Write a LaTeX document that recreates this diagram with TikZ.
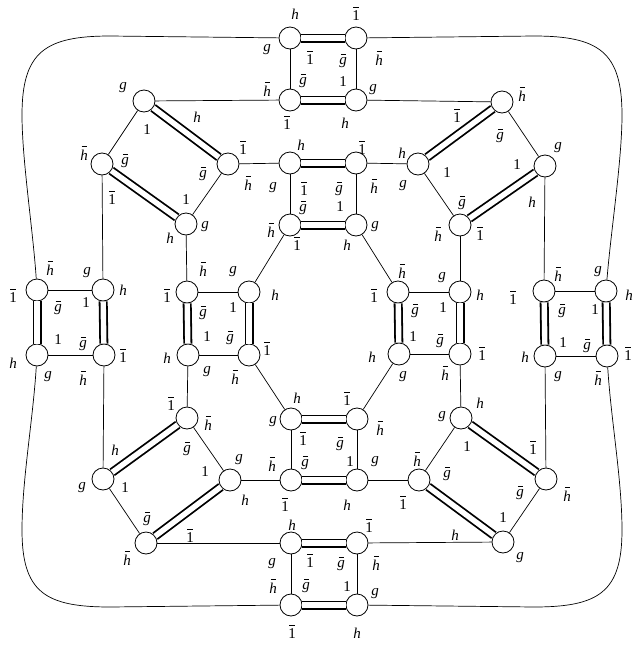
\documentclass[tikz,border=0pt]{standalone}
\usepackage{fontspec}
\setmainfont{Liberation Serif}
\usetikzlibrary{calc}
\newcommand\ob[2][0pt]{\setbox0\hbox{#2}\hbox{\rlap{\hbox to \wd0{\hss\kern#1\smash{\raisebox{\dimexpr\ht0+3.2pt\relax}{\rule{5.5pt}{0.9pt}}}\hss}}\box0}}
\newcommand\Lh{\textit{h}}
\newcommand\Lg{\textit{g}}
\newcommand\Lo{\textup{1}}
\newcommand\Lbh{\ob[1pt]{\textit{h}}}
\newcommand\Lbg{\ob[1pt]{\textit{g}}}
\newcommand\Lbo{\ob{\textup{1}}}
\begin{document}
\begin{tikzpicture}[x=1pt,y=-1pt,
  vert/.style={circle,draw,fill=white,minimum size=22pt,inner sep=0pt,line width=0.8pt},
  sgl/.style={line width=0.7pt},
  dbl/.style={double,double distance=5.4pt,line width=1.8pt},
  lab/.style={inner sep=0pt,font=\fontsize{15}{17}\selectfont}]
\useasboundingbox (0,0) rectangle (634,646);
% nodes
\foreach \n/\x/\y in {
 ta/290/38, tb/356/38, tc/290/100, td/356/100,
 ua/290/163, ub/356/163, uc/290/225, ud/356/225,
 va/291/419, vb/357/419, vc/291/480, vd/357/480,
 wa/291/543, wb/357/543, wc/291/605, wd/357/605,
 la/37/290, lb/103/290, lc/37/355, ld/104/355,
 ma/187/292, mb/249/292, mc/188/355, md/249/355,
 na/398/292, nb/460/292, nc/399/354, nd/460/354,
 ra/544/291, rb/606/291, rc/545/356, rd/607/356,
 pa/144/101, pb/102/164, pc/228/164, pd/186/224,
 qa/502/102, qb/418/164, qc/545/166, qd/460/225,
 sa/187/418, sb/103/479, sc/230/480, sd/146/543,
 ka/461/418, kb/419/480, kc/546/479, kd/503/542}
 \node[vert] (\n) at (\x,\y) {};
% double edges
\foreach \a/\b in {ta/tb,tc/td,ua/ub,uc/ud,va/vb,vc/vd,wa/wb,wc/wd,
 la/lc,lb/ld,ma/mc,mb/md,na/nc,nb/nd,ra/rc,rb/rd,
 pa/pc,pb/pd,qa/qb,qd/qc,sa/sb,sc/sd,ka/kc,kb/kd}
 \draw[dbl] (\a) -- (\b);
% single edges
\foreach \a/\b in {ta/tc,tb/td,ua/uc,ub/ud,va/vc,vb/vd,wa/wc,wb/wd,
 la/lb,lc/ld,ma/mb,mc/md,na/nb,nc/nd,ra/rb,rc/rd,
 pa/pb,pc/pd,qa/qc,qb/qd,sa/sc,sb/sd,ka/kb,kc/kd,
 pb/lb,pc/ua,pd/ma,tc/pa,td/qa,ub/qb,qd/nb,qc/ra,
 uc/mb,ud/na,mc/sa,md/va,nc/vb,nd/ka,
 ld/sb,sc/vc,vd/kb,kc/rc,sd/wa,wb/kd}
 \draw[sgl] (\a) -- (\b);
% outer curves
\draw[sgl] (ta) -- (110,36) .. controls (45,36) and (22,52) .. (22,115)
  .. controls (22,160) and (33,230) .. (la);
\draw[sgl] (tb) -- (534,36) .. controls (599,36) and (622,52) .. (622,115)
  .. controls (622,160) and (611,230) .. (rb);
\draw[sgl] (lc) .. controls (33,420) and (22,480) .. (22,530)
  .. controls (22,592) and (45,607) .. (110,607) -- (wc);
\draw[sgl] (rd) .. controls (611,420) and (622,480) .. (622,530)
  .. controls (622,592) and (599,607) .. (534,607) -- (wd);
% labels
\foreach \x/\y/\t [count=\i] in {
 295/14/\Lh, 267/50/\Lg, 310/60/\Lbo,
 356/16/\Lbo, 379/60/\Lbh, 343/63/\Lbg,
 267/91/\Lbh, 303/83/\Lbg, 287/125/\Lbo,
 343/82/\Lo, 373/90/\Lg, 345/123/\Lh,
 301/145/\Lh, 273/188/\Lg, 304/191/\Lbo,
 362/150/\Lbo, 374/188/\Lbh, 339/191/\Lbg,
 271/232/\Lbh, 303/210/\Lbg, 297/246/\Lbo,
 340/207/\Lo, 375/227/\Lg, 347/245/\Lh,
 297/398/\Lh, 273/422/\Lg, 303/441/\Lbo,
 347/401/\Lbo, 380/430/\Lbh, 340/446/\Lbg,
 272/466/\Lbh, 305/465/\Lbg, 285/507/\Lbo,
 350/462/\Lo, 375/462/\Lg, 347/505/\Lh,
 292/525/\Lh, 272/564/\Lg, 310/563/\Lbo,
 369/528/\Lbo, 376/565/\Lbh, 341/566/\Lbg,
 273/588/\Lbh, 306/588/\Lbg, 292/634/\Lbo,
 347/587/\Lo, 375/594/\Lg, 357/633/\Lh,
 13/298/\Lbo, 50/270/\Lbh, 58/310/\Lbg,
 87/273/\Lg, 123/290/\Lh, 86/303/\Lo,
 58/340/\Lo, 13/363/\Lh, 48/377/\Lg,
 83/346/\Lbg, 123/358/\Lbo, 83/380/\Lbh,
 167/298/\Lbo, 203/271/\Lbh, 203/315/\Lbg,
 233/272/\Lg, 275/295/\Lh, 233/308/\Lo,
 207/337/\Lo, 167/358/\Lh, 207/372/\Lg,
 230/340/\Lbg, 267/351/\Lbo, 235/379/\Lbh,
 374/298/\Lbo, 402/273/\Lbh, 415/313/\Lbg,
 442/278/\Lg, 480/295/\Lh, 443/308/\Lo,
 413/337/\Lo, 372/357/\Lh, 403/377/\Lg,
 440/343/\Lbg, 482/356/\Lbo, 445/375/\Lbh,
 513/300/\Lbo, 558/276/\Lbh, 562/313/\Lbg,
 598/272/\Lg, 629/295/\Lh, 595/310/\Lo,
 563/343/\Lo, 525/357/\Lh, 558/377/\Lg,
 587/348/\Lbg, 628/356/\Lbo, 598/380/\Lbh,
 123/88/\Lg, 147/130/\Lo, 197/117/\Lh,
 84/155/\Lbh, 125/163/\Lbg, 112/200/\Lbo,
 243/150/\Lbo, 203/176/\Lbg, 248/185/\Lbh,
 186/200/\Lo, 205/227/\Lg, 170/238/\Lh,
 522/96/\Lbh, 457/118/\Lbo, 500/138/\Lbg,
 402/153/\Lh, 403/186/\Lg, 447/173/\Lo,
 558/148/\Lg, 517/165/\Lo, 532/202/\Lh,
 462/205/\Lbg, 438/236/\Lbh, 480/236/\Lbo,
 171/406/\Lbo, 208/425/\Lbh, 187/451/\Lbg,
 115/450/\Lh, 82/488/\Lg, 125/488/\Lo,
 239/460/\Lg, 205/472/\Lo, 245/500/\Lh,
 147/521/\Lbg, 190/538/\Lbo, 127/560/\Lbh,
 442/417/\Lg, 480/403/\Lh, 467/447/\Lo,
 417/461/\Lbh, 447/476/\Lbg, 403/505/\Lbo,
 533/450/\Lbo, 520/495/\Lbg, 567/496/\Lbh,
 503/518/\Lo, 455/535/\Lh, 520/558/\Lg}
 \node[lab] (L\i) at (\x,\y) {\t};
\end{tikzpicture}
\end{document}
